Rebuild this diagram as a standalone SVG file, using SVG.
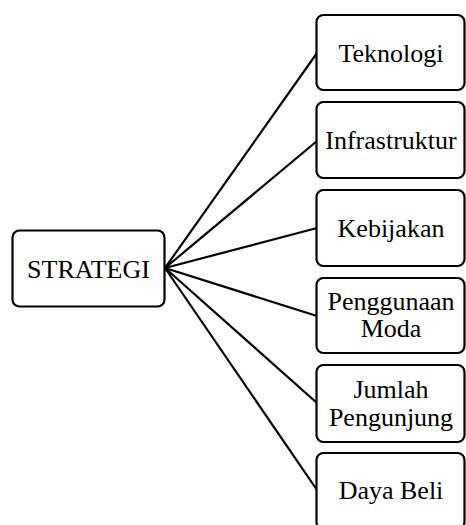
<svg xmlns="http://www.w3.org/2000/svg" width="466" height="525" viewBox="0 0 466 525">
<style>
.box{fill:#fff;stroke:#000;stroke-width:2.2}
.t{font-family:"Liberation Serif","Times New Roman",serif;font-size:26px;fill:#000;text-anchor:middle}
.c{stroke:#000;stroke-width:2.2;fill:none}
</style>
<rect width="466" height="525" fill="#fff"/>
<g id="connectors">
<line class="c" x1="165" y1="268" x2="317" y2="53"/>
<line class="c" x1="165" y1="268" x2="317" y2="141"/>
<line class="c" x1="165" y1="268" x2="317" y2="228"/>
<line class="c" x1="165" y1="268" x2="317" y2="316"/>
<line class="c" x1="165" y1="268" x2="317" y2="403"/>
<line class="c" x1="165" y1="268" x2="317" y2="490"/>
</g>
<g id="strategi">
<rect class="box" x="12.5" y="230.5" width="152" height="76" rx="7"/>
<text class="t" x="88.5" y="278">STRATEGI</text>
</g>
<g id="teknologi">
<rect class="box" x="316.5" y="15" width="148" height="75" rx="7"/>
<text class="t" x="391" y="62">Teknologi</text>
</g>
<g id="infrastruktur">
<rect class="box" x="316.5" y="102" width="148" height="76" rx="7"/>
<text class="t" x="391" y="149">Infrastruktur</text>
</g>
<g id="kebijakan">
<rect class="box" x="316.5" y="190" width="148" height="76" rx="7"/>
<text class="t" x="391" y="237">Kebijakan</text>
</g>
<g id="penggunaan-moda">
<rect class="box" x="316.5" y="278" width="148" height="75" rx="7"/>
<text class="t" x="391" y="310">Penggunaan</text>
<text class="t" x="391" y="337">Moda</text>
</g>
<g id="jumlah-pengunjung">
<rect class="box" x="316.5" y="365" width="148" height="77" rx="7"/>
<text class="t" x="391" y="398">Jumlah</text>
<text class="t" x="391" y="426">Pengunjung</text>
</g>
<g id="daya-beli">
<rect class="box" x="316.5" y="453" width="148" height="76" rx="7"/>
<text class="t" x="391" y="499">Daya Beli</text>
</g>
</svg>
